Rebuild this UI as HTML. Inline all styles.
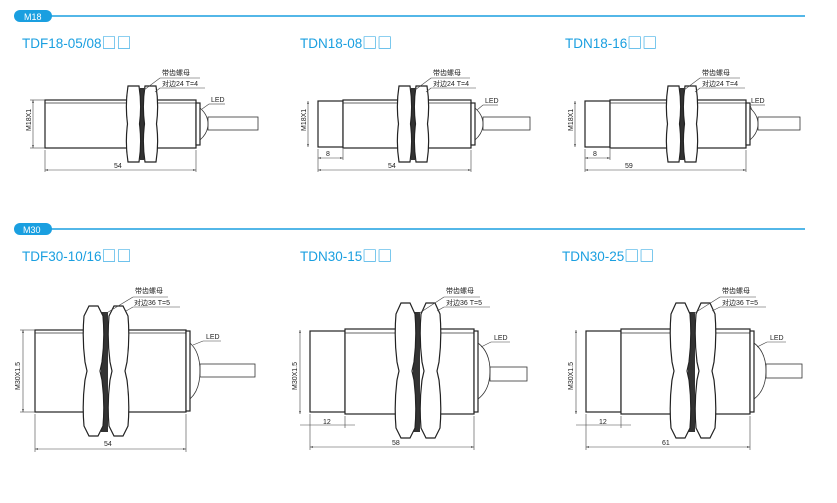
<!DOCTYPE html>
<html><head><meta charset="utf-8"><style>
body{margin:0;background:#fff;width:837px;height:503px;overflow:hidden}
svg{display:block;font-family:"Liberation Sans","Noto Sans CJK SC",sans-serif}
.t{fill:#1a9fe0;font-size:13.5px}
.q{font-family:"Noto Sans CJK SC",sans-serif;font-size:15px}
.s{font-size:7px;fill:#222}
.l{stroke:#333;stroke-width:0.8;fill:none}
.b{stroke:#222;stroke-width:1.2;fill:#fff}
.d{stroke:#444;stroke-width:0.6;fill:none}
</style></head><body>
<svg width="837" height="503" viewBox="0 0 837 503">
<defs>
<marker id="a" markerWidth="6" markerHeight="6" refX="5" refY="3" orient="auto-start-reverse"><path d="M0,1.5 L5,3 L0,4.5" fill="#444"/></marker>
</defs>
<rect x="14" y="10" width="38" height="12" rx="6" fill="#1a9fe0"/>
<text x="24" y="20" fill="#fff" font-size="9">M18</text>
<line x1="50" y1="16" x2="805" y2="16" stroke="#1a9fe0" stroke-width="1.6"/>
<rect x="14" y="223" width="38" height="12" rx="6" fill="#1a9fe0"/>
<text x="23" y="233" fill="#fff" font-size="9">M30</text>
<line x1="50" y1="229" x2="805" y2="229" stroke="#1a9fe0" stroke-width="1.6"/>

<text class="t" x="22" y="48">TDF18-05/08<tspan class="q">□□</tspan></text>
<text class="t" x="300" y="48">TDN18-08<tspan class="q">□□</tspan></text>
<text class="t" x="565" y="48">TDN18-16<tspan class="q">□□</tspan></text>
<text class="t" x="22" y="261">TDF30-10/16<tspan class="q">□□</tspan></text>
<text class="t" x="300" y="261">TDN30-15<tspan class="q">□□</tspan></text>
<text class="t" x="562" y="261">TDN30-25<tspan class="q">□□</tspan></text>

<!-- TDF18 -->
<g>
<rect class="b" x="45" y="100" width="151" height="48"/>
<line class="l" x1="45" y1="103" x2="196" y2="103"/>
<rect class="b" x="196" y="103" width="4" height="42"/>
<path class="l" d="M200,108 Q208,115 208,124 Q208,133 200,140"/>
<rect class="l" x="208" y="117" width="50" height="13"/>
<rect x="140" y="88" width="4" height="72" fill="#333"/>
<path class="b" d="M128,86 L139,86 Q142,105 139.5,124 Q142,143 139,162 L128,162 Q125,143 127.5,124 Q125,105 128,86Z"/>
<path class="b" d="M145,86 L156,86 Q159,105 156.5,124 Q159,143 156,162 L145,162 Q142,143 144.5,124 Q142,105 145,86Z"/>
<line class="d" x1="33" y1="100" x2="33" y2="148" marker-start="url(#a)" marker-end="url(#a)"/>
<line class="d" x1="30" y1="100" x2="45" y2="100"/><line class="d" x1="30" y1="148" x2="45" y2="148"/>
<text class="s" transform="translate(31,131) rotate(-90)">M18X1</text>
<line class="d" x1="45" y1="150" x2="45" y2="172"/><line class="d" x1="196" y1="150" x2="196" y2="172"/>
<line class="d" x1="45" y1="170" x2="196" y2="170" marker-start="url(#a)" marker-end="url(#a)"/>
<text class="s" x="114" y="168">54</text>
<text class="s" x="162" y="75">带齿螺母</text>
<text class="s" x="162" y="86">对边24 T=4</text>
<line class="d" x1="160" y1="78" x2="200" y2="78"/><line class="d" x1="160" y1="78" x2="144" y2="90"/>
<line class="d" x1="160" y1="88" x2="205" y2="88"/><line class="d" x1="160" y1="88" x2="155" y2="92"/>
<text class="s" x="211" y="102">LED</text>
<line class="d" x1="209" y1="104" x2="225" y2="104"/><line class="d" x1="209" y1="104" x2="202" y2="109"/>
</g>

<!-- TDN18-08 -->
<g>
<rect class="b" x="318" y="101" width="25" height="46"/>
<rect class="b" x="343" y="100" width="128" height="48"/>
<line class="l" x1="343" y1="103" x2="471" y2="103"/>
<rect class="b" x="471" y="103" width="4" height="42"/>
<path class="l" d="M475,108 Q483,115 483,124 Q483,133 475,140"/>
<rect class="l" x="483" y="117" width="47" height="13"/>
<rect x="411" y="88" width="4" height="72" fill="#333"/>
<path class="b" d="M399,86 L410,86 Q413,105 410.5,124 Q413,143 410,162 L399,162 Q396,143 398.5,124 Q396,105 399,86Z"/>
<path class="b" d="M416,86 L427,86 Q430,105 427.5,124 Q430,143 427,162 L416,162 Q413,143 415.5,124 Q413,105 416,86Z"/>
<line class="d" x1="308" y1="101" x2="308" y2="147" marker-start="url(#a)" marker-end="url(#a)"/>
<text class="s" transform="translate(306,131) rotate(-90)">M18X1</text>
<line class="d" x1="318" y1="149" x2="318" y2="172"/><line class="d" x1="343" y1="149" x2="343" y2="160"/><line class="d" x1="471" y1="150" x2="471" y2="172"/>
<line class="d" x1="318" y1="158" x2="343" y2="158" marker-start="url(#a)" marker-end="url(#a)"/>
<text class="s" x="326" y="156">8</text>
<line class="d" x1="318" y1="170" x2="471" y2="170" marker-start="url(#a)" marker-end="url(#a)"/>
<text class="s" x="388" y="168">54</text>
<text class="s" x="433" y="75">带齿螺母</text>
<text class="s" x="433" y="86">对边24 T=4</text>
<line class="d" x1="431" y1="78" x2="470" y2="78"/><line class="d" x1="431" y1="78" x2="415" y2="90"/>
<line class="d" x1="431" y1="88" x2="476" y2="88"/><line class="d" x1="431" y1="88" x2="426" y2="92"/>
<text class="s" x="485" y="103">LED</text>
<line class="d" x1="483" y1="105" x2="498" y2="105"/><line class="d" x1="483" y1="105" x2="477" y2="110"/>
</g>

<!-- TDN18-16 -->
<g>
<rect class="b" x="585" y="101" width="25" height="46"/>
<rect class="b" x="610" y="100" width="136" height="48"/>
<line class="l" x1="610" y1="103" x2="746" y2="103"/>
<rect class="b" x="746" y="103" width="4" height="42"/>
<path class="l" d="M750,108 Q758,115 758,124 Q758,133 750,140"/>
<rect class="l" x="758" y="117" width="42" height="13"/>
<rect x="680" y="88" width="4" height="72" fill="#333"/>
<path class="b" d="M668,86 L679,86 Q682,105 679.5,124 Q682,143 679,162 L668,162 Q665,143 667.5,124 Q665,105 668,86Z"/>
<path class="b" d="M685,86 L696,86 Q699,105 696.5,124 Q699,143 696,162 L685,162 Q682,143 684.5,124 Q682,105 685,86Z"/>
<line class="d" x1="575" y1="101" x2="575" y2="147" marker-start="url(#a)" marker-end="url(#a)"/>
<text class="s" transform="translate(573,131) rotate(-90)">M18X1</text>
<line class="d" x1="585" y1="149" x2="585" y2="172"/><line class="d" x1="610" y1="149" x2="610" y2="160"/><line class="d" x1="746" y1="150" x2="746" y2="172"/>
<line class="d" x1="585" y1="158" x2="610" y2="158" marker-start="url(#a)" marker-end="url(#a)"/>
<text class="s" x="593" y="156">8</text>
<line class="d" x1="585" y1="170" x2="746" y2="170" marker-start="url(#a)" marker-end="url(#a)"/>
<text class="s" x="625" y="168">59</text>
<text class="s" x="702" y="75">带齿螺母</text>
<text class="s" x="702" y="86">对边24 T=4</text>
<line class="d" x1="700" y1="78" x2="740" y2="78"/><line class="d" x1="700" y1="78" x2="684" y2="90"/>
<line class="d" x1="700" y1="88" x2="745" y2="88"/><line class="d" x1="700" y1="88" x2="695" y2="92"/>
<text class="s" x="751" y="103">LED</text>
<line class="d" x1="750" y1="105" x2="765" y2="105"/><line class="d" x1="750" y1="105" x2="752" y2="110"/>
</g>

<!-- TDF30 -->
<g>
<rect class="b" x="35" y="330" width="151" height="82"/>
<line class="l" x1="35" y1="333" x2="186" y2="333"/>
<rect class="b" x="186" y="331" width="4" height="80"/>
<path class="l" d="M190,343 Q200,352 200,371 Q200,390 190,399"/>
<rect class="l" x="200" y="364" width="55" height="13"/>
<rect x="101" y="312" width="7" height="120" fill="#333"/>
<path class="b" d="M89,306 L98,306 L103,316 Q105,339 102,362 L100,371 L102,380 Q105,403 103,426 L98,436 L89,436 L84,426 Q82,403 85,380 L87,371 L85,362 Q82,339 84,316Z"/>
<path class="b" d="M114,306 L123,306 L128,316 Q130,339 127,362 L125,371 L127,380 Q130,403 128,426 L123,436 L114,436 L109,426 Q107,403 110,380 L112,371 L110,362 Q107,339 109,316Z"/>
<line class="d" x1="23" y1="330" x2="23" y2="412" marker-start="url(#a)" marker-end="url(#a)"/>
<line class="d" x1="20" y1="330" x2="35" y2="330"/><line class="d" x1="20" y1="412" x2="35" y2="412"/>
<text class="s" transform="translate(20,390) rotate(-90)">M30X1.5</text>
<line class="d" x1="35" y1="414" x2="35" y2="452"/><line class="d" x1="186" y1="414" x2="186" y2="452"/>
<line class="d" x1="35" y1="449" x2="186" y2="449" marker-start="url(#a)" marker-end="url(#a)"/>
<text class="s" x="104" y="446">54</text>
<text class="s" x="135" y="293">带齿螺母</text>
<text class="s" x="134" y="305">对边36 T=5</text>
<line class="d" x1="133" y1="297" x2="168" y2="297"/><line class="d" x1="133" y1="297" x2="105" y2="314"/>
<line class="d" x1="133" y1="307" x2="180" y2="307"/><line class="d" x1="133" y1="307" x2="126" y2="311"/>
<text class="s" x="206" y="339">LED</text>
<line class="d" x1="203" y1="341" x2="221" y2="341"/><line class="d" x1="203" y1="341" x2="193" y2="345"/>
</g>

<!-- TDN30-15 -->
<g>
<rect class="b" x="310" y="331" width="35" height="81"/>
<rect class="b" x="345" y="329" width="129" height="85"/>
<line class="l" x1="345" y1="333" x2="474" y2="333"/>
<rect class="b" x="474" y="331" width="4" height="81"/>
<path class="l" d="M478,343 Q490,352 490,371 Q490,390 478,399"/>
<rect class="l" x="490" y="367" width="37" height="14"/>
<rect x="413" y="312" width="7" height="120" fill="#333"/>
<path class="b" d="M401,303 L410,303 L415,314 Q417,338 414,362 L412,371 L414,380 Q417,404 415,428 L410,438 L401,438 L396,428 Q394,404 397,380 L399,371 L397,362 Q394,338 396,314Z"/>
<path class="b" d="M426,303 L435,303 L440,314 Q442,338 439,362 L437,371 L439,380 Q442,404 440,428 L435,438 L426,438 L421,428 Q419,404 422,380 L424,371 L422,362 Q419,338 421,314Z"/>
<line class="d" x1="300" y1="330" x2="300" y2="414" marker-start="url(#a)" marker-end="url(#a)"/>
<text class="s" transform="translate(297,390) rotate(-90)">M30X1.5</text>
<line class="d" x1="310" y1="414" x2="310" y2="450"/><line class="d" x1="345" y1="416" x2="345" y2="428"/><line class="d" x1="474" y1="416" x2="474" y2="450"/>
<line class="d" x1="300" y1="425" x2="355" y2="425"/>
<text class="s" x="323" y="424">12</text>
<line class="d" x1="310" y1="447" x2="474" y2="447" marker-start="url(#a)" marker-end="url(#a)"/>
<text class="s" x="392" y="445">58</text>
<text class="s" x="446" y="293">带齿螺母</text>
<text class="s" x="446" y="305">对边36 T=5</text>
<line class="d" x1="444" y1="297" x2="480" y2="297"/><line class="d" x1="444" y1="297" x2="418" y2="314"/>
<line class="d" x1="444" y1="307" x2="490" y2="307"/><line class="d" x1="444" y1="307" x2="437" y2="311"/>
<text class="s" x="494" y="340">LED</text>
<line class="d" x1="491" y1="342" x2="510" y2="342"/><line class="d" x1="491" y1="342" x2="481" y2="347"/>
</g>

<!-- TDN30-25 -->
<g>
<rect class="b" x="586" y="331" width="35" height="81"/>
<rect class="b" x="621" y="329" width="129" height="85"/>
<line class="l" x1="621" y1="333" x2="750" y2="333"/>
<rect class="b" x="750" y="331" width="4" height="81"/>
<path class="l" d="M754,343 Q766,352 766,371 Q766,390 754,399"/>
<rect class="l" x="766" y="364" width="36" height="14"/>
<rect x="688" y="312" width="7" height="120" fill="#333"/>
<path class="b" d="M676,303 L685,303 L690,314 Q692,338 689,362 L687,371 L689,380 Q692,404 690,428 L685,438 L676,438 L671,428 Q669,404 672,380 L674,371 L672,362 Q669,338 671,314Z"/>
<path class="b" d="M701,303 L710,303 L715,314 Q717,338 714,362 L712,371 L714,380 Q717,404 715,428 L710,438 L701,438 L696,428 Q694,404 697,380 L699,371 L697,362 Q694,338 696,314Z"/>
<line class="d" x1="576" y1="330" x2="576" y2="414" marker-start="url(#a)" marker-end="url(#a)"/>
<text class="s" transform="translate(573,390) rotate(-90)">M30X1.5</text>
<line class="d" x1="586" y1="414" x2="586" y2="450"/><line class="d" x1="621" y1="416" x2="621" y2="428"/><line class="d" x1="750" y1="416" x2="750" y2="450"/>
<line class="d" x1="576" y1="425" x2="631" y2="425"/>
<text class="s" x="599" y="424">12</text>
<line class="d" x1="586" y1="447" x2="750" y2="447" marker-start="url(#a)" marker-end="url(#a)"/>
<text class="s" x="662" y="445">61</text>
<text class="s" x="722" y="293">带齿螺母</text>
<text class="s" x="722" y="305">对边36 T=5</text>
<line class="d" x1="720" y1="297" x2="756" y2="297"/><line class="d" x1="720" y1="297" x2="693" y2="314"/>
<line class="d" x1="720" y1="307" x2="766" y2="307"/><line class="d" x1="720" y1="307" x2="712" y2="311"/>
<text class="s" x="770" y="340">LED</text>
<line class="d" x1="767" y1="342" x2="786" y2="342"/><line class="d" x1="767" y1="342" x2="757" y2="347"/>
</g>
</svg>
</body></html>
